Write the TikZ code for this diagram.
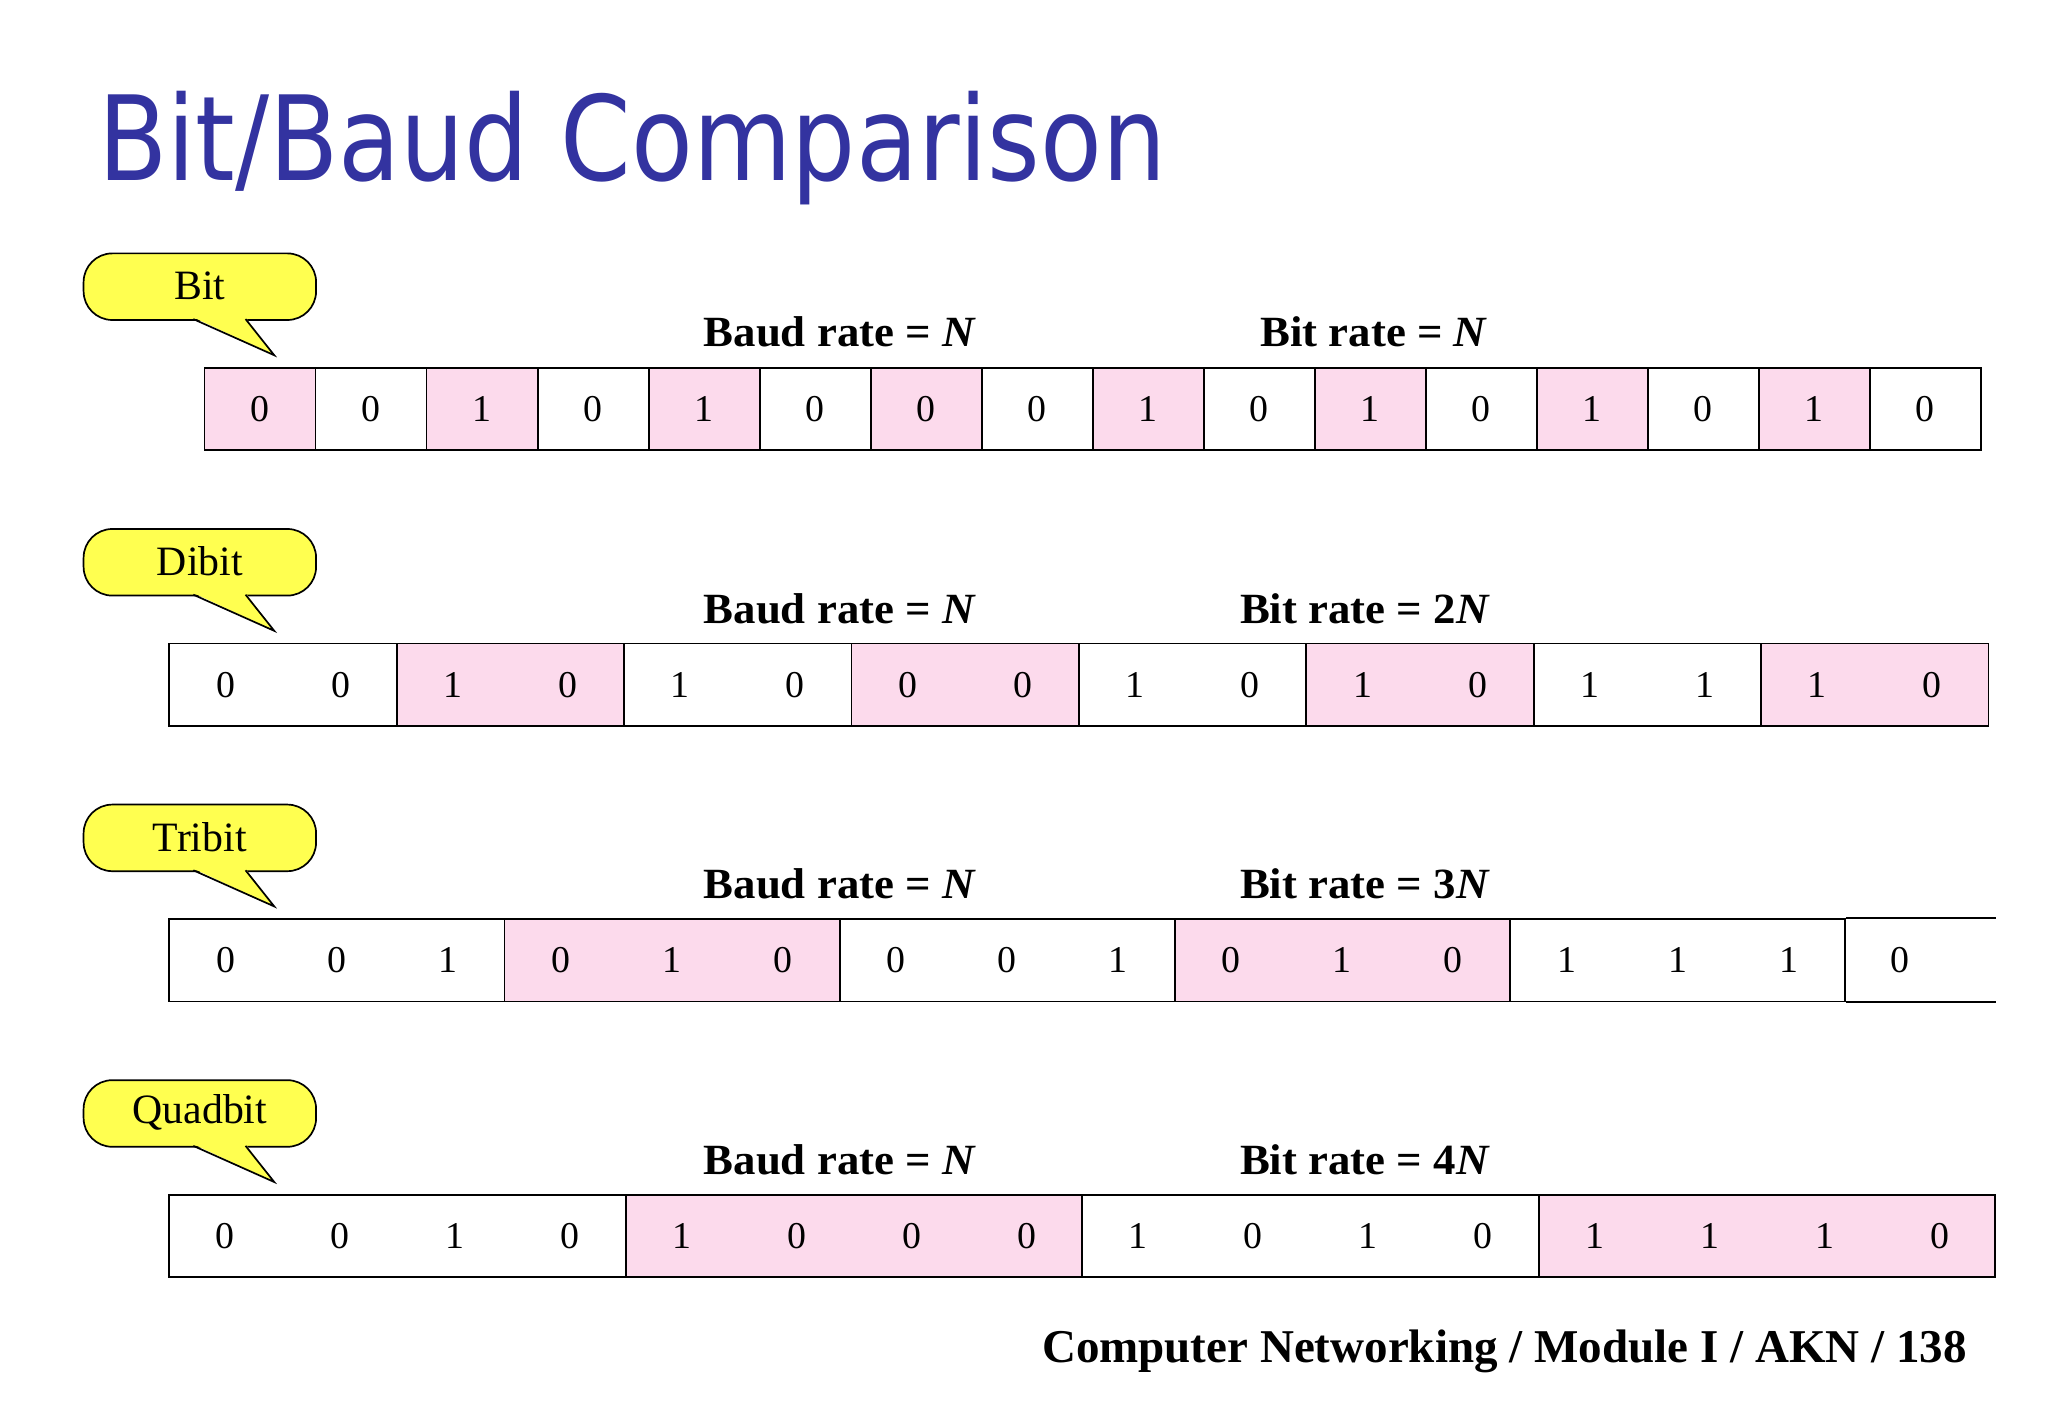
\documentclass[tikz,border=0pt]{standalone}
\usepackage{fontspec}
\setmainfont{Liberation Serif}
\newfontfamily\titlefont{DejaVu Sans}
\definecolor{pinkc}{RGB}{252,218,236}
\definecolor{titlec}{RGB}{51,51,160}
\definecolor{yel}{RGB}{255,255,80}
\tikzset{cellbox/.style={draw,line width=1.3pt,minimum height=63pt,inner sep=0pt,anchor=north west},
digit/.style={font=\fontsize{29}{30}\selectfont},
lab/.style={font=\bfseries\fontsize{33}{35}\selectfont,anchor=base,xscale=1.04},
callout/.style={draw,line width=1.3pt,fill=yel,rounded corners=22pt},
ctext/.style={font=\fontsize{32}{34}\selectfont}}
\begin{document}
\begin{tikzpicture}[x=1pt,y=-1pt]
\useasboundingbox[fill=white] (0,0) rectangle (1568,1086);
\node[anchor=base west,text=titlec,font=\titlefont\fontsize{90}{92}\selectfont,inner sep=0pt,xscale=0.86] (title) at (75,138) {Bit/Baud Comparison};
% callouts
\foreach \nm/\txt/\y in {c1/Bit/194,c2/Dibit/405,c3/Tribit/616,c4/Quadbit/827}{
  \draw[callout] (64,\y) rectangle (242,\y+51);
  \fill[yel] (148,\y+49) -- (210,\y+78) -- (188,\y+49) -- cycle;
  \draw[line width=1.3pt] (148,\y+50.3) -- (210,\y+78) -- (188,\y+50.3);
  \node[ctext] (\nm) at (153,\y+25) {\txt};
}
% labels
\foreach \y [count=\i] in {255,467,678,889}{
  \node[lab] (baud\i) at (643,\y+10) {Baud rate = \textit{N}};
}
\node[lab] (bit1) at (1052,265) {Bit rate = \textit{N}};
\node[lab] (bit2) at (1045,477) {Bit rate = 2\textit{N}};
\node[lab] (bit3) at (1045,688) {Bit rate = 3\textit{N}};
\node[lab] (bit4) at (1045,899) {Bit rate = 4\textit{N}};
% row 1
\foreach \v [count=\i from 0] in {0,0,1,0,1,0,0,0,1,0,1,0,1,0,1,0}{
  \pgfmathsetmacro\xx{156+85*\i}
  \pgfmathparse{mod(\i,2)==0?"pinkc":"white"}\edef\cc{\pgfmathresult}
  \node[cellbox,fill=\cc,minimum width=85pt] (r1c\i) at (\xx,281) {};
  \node[digit] at (r1c\i.center) {\v};
}
% row 2
\foreach \a/\b [count=\i from 0] in {0/0,1/0,1/0,0/0,1/0,1/0,1/1,1/0}{
  \pgfmathsetmacro\xx{129+174.1*\i}
  \pgfmathparse{mod(\i,2)==1?"pinkc":"white"}\edef\cc{\pgfmathresult}
  \node[cellbox,fill=\cc,minimum width=174.1pt] (r2c\i) at (\xx,492) {};
  \node[digit] at ([xshift=-44pt]r2c\i.center) {\a};
  \node[digit] at ([xshift=44pt]r2c\i.center) {\b};
}
% row 3
\foreach \a/\b/\c [count=\i from 0] in {0/0/1,0/1/0,0/0/1,0/1/0,1/1/1}{
  \pgfmathsetmacro\xx{129+256.6*\i}
  \pgfmathparse{mod(\i,2)==1?"pinkc":"white"}\edef\cc{\pgfmathresult}
  \node[cellbox,fill=\cc,minimum width=256.6pt] (r3c\i) at (\xx,703) {};
  \node[digit] at ([xshift=-85pt]r3c\i.center) {\a};
  \node[digit] at (r3c\i.center) {\b};
  \node[digit] at ([xshift=85pt]r3c\i.center) {\c};
}
\draw[line width=1.3pt] (r3c4.north east) -- ++(115,0) (r3c4.south east) -- ++(115,0);
\node[digit] (r3last) at (1455,735) {0};
% row 4
\foreach \a/\b/\c/\d [count=\i from 0] in {0/0/1/0,1/0/0/0,1/0/1/0,1/1/1/0}{
  \pgfmathsetmacro\xx{129+349.5*\i}
  \pgfmathparse{mod(\i,2)==1?"pinkc":"white"}\edef\cc{\pgfmathresult}
  \node[cellbox,fill=\cc,minimum width=349.5pt] (r4c\i) at (\xx,914) {};
  \node[digit] at ([xshift=-132pt]r4c\i.center) {\a};
  \node[digit] at ([xshift=-44pt]r4c\i.center) {\b};
  \node[digit] at ([xshift=44pt]r4c\i.center) {\c};
  \node[digit] at ([xshift=132pt]r4c\i.center) {\d};
}
\node[anchor=base east,font=\bfseries\fontsize{36}{38}\selectfont,inner sep=0pt] (foot) at (1506,1043) {Computer Networking / Module I / AKN / 138};
\end{tikzpicture}
\end{document}
